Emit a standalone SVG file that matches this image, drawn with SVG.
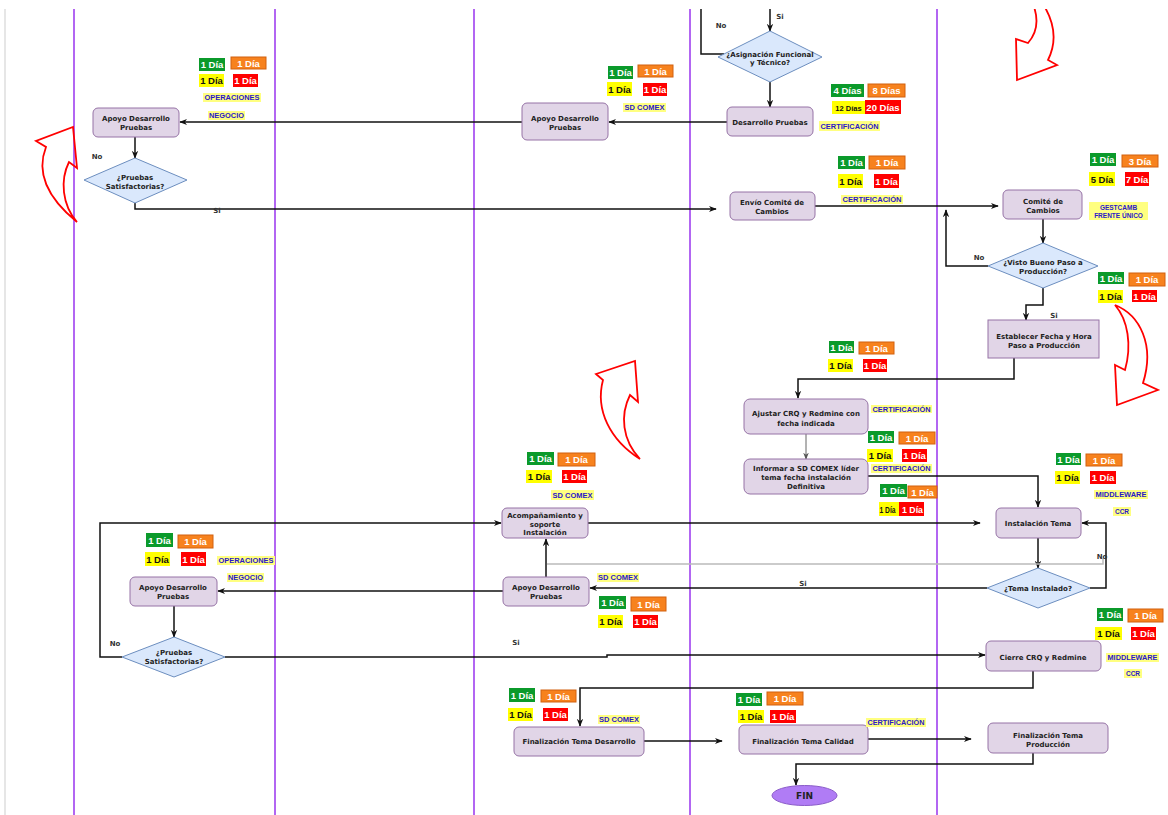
<svg xmlns="http://www.w3.org/2000/svg" width="1168" height="815" viewBox="0 0 1168 815">
<defs>
<style>
.lane{stroke:#9933ee;stroke-width:1.5;fill:none}
.node{fill:#e1d5e7;stroke:#9673a6;stroke-width:1}
.dec{fill:#dae8fc;stroke:#6c8ebf;stroke-width:1}
.t{font-family:"DejaVu Sans",Verdana,sans-serif;font-weight:bold;font-size:7px;fill:#222;text-anchor:middle}
.e{fill:none;stroke:#111;stroke-width:1.5;marker-end:url(#arr)}
.en{fill:none;stroke:#111;stroke-width:1.5}
.eg{fill:none;stroke:#bbbbbb;stroke-width:1.5}
.red{fill:none;stroke:#ff0000;stroke-width:1.8;stroke-linejoin:miter}
.bt{font-family:"Liberation Sans",Arial,sans-serif;font-weight:bold;font-size:9.5px;text-anchor:middle}
.gr{fill:#0b9a2b}
.or{fill:#f7821e;stroke:#d2600e;stroke-width:1}
.ye{fill:#ffff00}
.rd{fill:#ff0000}
.w{fill:#ffffff}
.k{fill:#111111}
.lb{fill:#ffff80}
.lt{font-family:"Liberation Sans",Arial,sans-serif;font-weight:bold;font-size:6.5px;fill:#2a18c8;text-anchor:middle}
.yn{font-family:"DejaVu Sans",Verdana,sans-serif;font-weight:bold;font-size:7px;fill:#333;text-anchor:middle}
</style>
<marker id="arr" viewBox="0 0 10 10" refX="9" refY="5" markerWidth="8" markerHeight="8" orient="auto" markerUnits="userSpaceOnUse"><path d="M0,1 L10,5 L0,9 L3,5 Z" fill="#111"/></marker>
<marker id="arrg" viewBox="0 0 10 10" refX="9" refY="5" markerWidth="7" markerHeight="7" orient="auto" markerUnits="userSpaceOnUse"><path d="M0,1 L10,5 L0,9 L3,5 Z" fill="#555"/></marker>
<clipPath id="clip"><rect x="0" y="9" width="1168" height="806"/></clipPath>
</defs>
<rect width="1168" height="815" fill="#ffffff"/>
<g id="lanes">
<line x1="5" y1="9" x2="5" y2="815" stroke="#e6e6e6" stroke-width="2"/>
<line class="lane" x1="74" y1="9" x2="74" y2="815"/>
<line class="lane" x1="275" y1="9" x2="275" y2="815"/>
<line class="lane" x1="474" y1="9" x2="474" y2="815"/>
<line class="lane" x1="690" y1="9" x2="690" y2="815"/>
<line class="lane" x1="937" y1="9" x2="937" y2="815"/>
</g>
<g id="redarrows" clip-path="url(#clip)">
<path class="red" d="M77 222 C50 200,35 175,46 147 L36 141 L73 127 L77 168 L69 162 C60 180,62 205,77 222 Z"/>
<path class="red" d="M1033 4 C1040 22,1035 35,1028 43 L1016 39 L1017 80 L1057 65 L1048 60 C1058 40,1053 20,1043 4"/>
<path class="red" d="M1115 305 C1140 315,1155 345,1143 383 L1158 390 L1117 405 L1115 365 L1125 370 C1132 345,1128 320,1115 305 Z"/>
<path class="red" d="M640 459 C610 440,595 410,603 380 L596 374 L635 361 L638 402 L630 395 C620 415,622 440,640 459 Z"/>
</g>
<g id="connectors">
<path class="e" d="M770,9 V31"/>
<path class="en" d="M701,9 V54 H724"/>
<path class="e" d="M770,82 V107"/>
<path class="e" d="M727,122 H609"/>
<path class="e" d="M522,122 H180"/>
<path class="e" d="M135,137 V158"/>
<path class="e" d="M135,203 V209 H716"/>
<path class="e" d="M815,206 H998"/>
<path class="e" d="M1043,219 V243"/>
<path class="e" d="M988,266 H946 V210"/>
<path class="e" d="M1043,288 V305 H1026 V320"/>
<path class="e" d="M1014,358 V379 H798 V398"/>
<path d="M806,434 V459" fill="none" stroke="#666" stroke-width="1" marker-end="url(#arrg)"/>
<path class="e" d="M868,476 H1038 V507"/>
<path class="e" d="M587,523 H980"/>
<path class="e" d="M1038,538 V568"/>
<path class="e" d="M1090,588 H1106 V523 H1082"/>
<path class="eg" d="M547,564 H1103 V558"/>
<path class="e" d="M987,588 H590"/>
<path class="e" d="M546,577 V539"/>
<path class="e" d="M503,591 H218"/>
<path class="e" d="M174,606 V637"/>
<path class="e" d="M122,657 H100 V523 H501"/>
<path class="e" d="M225,657 H607 V655 H985"/>
<path class="e" d="M1033,670 V688 H580 V726"/>
<path class="e" d="M644,741 H722"/>
<path class="e" d="M868,739 H971"/>
<path class="e" d="M1033,753 V764 H796 V785"/>
</g>
<g id="edge-labels">
<text class="yn" x="780" y="19">Si</text>
<text class="yn" x="721" y="28">No</text>
<text class="yn" x="97" y="159">No</text>
<text class="yn" x="217" y="213">Si</text>
<text class="yn" x="979" y="260">No</text>
<text class="yn" x="1054" y="318">Si</text>
<text class="yn" x="1102" y="559">No</text>
<text class="yn" x="803" y="586">Si</text>
<text class="yn" x="115" y="646">No</text>
<text class="yn" x="516" y="645">Si</text>
</g>
<g id="n-apoyo1"><rect class="node" x="93" y="108" width="86" height="29" rx="5"/><text class="t" x="136" y="121">Apoyo Desarrollo<tspan x="136" dy="9">Pruebas</tspan></text></g>
<g id="n-pruebas1"><polygon class="dec" points="135,158 187,180 135,203 84,180"/><text class="t" x="135" y="180">¿Pruebas<tspan x="135" dy="9">Satisfactorias?</tspan></text></g>
<g id="n-apoyo2"><rect class="node" x="522" y="103" width="86" height="37" rx="5"/><text class="t" x="565" y="121">Apoyo Desarrollo<tspan x="565" dy="8.5">Pruebas</tspan></text></g>
<g id="n-asignacion"><polygon class="dec" points="770,31 822,57 770,82 718,57"/><text class="t" x="770" y="57">¿Asignación Funcional<tspan x="770" dy="8">y Técnico?</tspan></text></g>
<g id="n-desarrollo"><rect class="node" x="727" y="107" width="86" height="29" rx="5"/><text class="t" x="770" y="125">Desarrollo Pruebas</text></g>
<g id="n-envio"><rect class="node" x="730" y="192" width="85" height="28" rx="5"/><text class="t" x="772" y="205">Envío Comité de<tspan x="772" dy="9">Cambios</tspan></text></g>
<g id="n-comite"><rect class="node" x="1003" y="190" width="79" height="29" rx="5"/><text class="t" x="1043" y="204">Comité de<tspan x="1043" dy="9">Cambios</tspan></text></g>
<g id="n-visto"><polygon class="dec" points="1043,243 1098,266 1043,288 988,266"/><text class="t" x="1043" y="265">¿Visto Bueno Paso a<tspan x="1043" dy="9">Producción?</tspan></text></g>
<g id="n-establecer"><rect class="node" x="988" y="320" width="111" height="38" stroke="#8a63a0"/><text class="t" x="1044" y="339">Establecer Fecha y Hora<tspan x="1044" dy="8.5">Paso a Producción</tspan></text></g>
<g id="n-ajustar"><rect class="node" x="744" y="399" width="124" height="35" rx="6"/><text class="t" x="806" y="416">Ajustar CRQ y Redmine con<tspan x="806" dy="9.5">fecha indicada</tspan></text></g>
<g id="n-informar"><rect class="node" x="744" y="459" width="124" height="35" rx="6"/><text class="t" x="806" y="471">Informar a SD COMEX líder<tspan x="806" dy="9">tema fecha instalación</tspan><tspan x="806" dy="9">Definitiva</tspan></text></g>
<g id="n-instalacion"><rect class="node" x="996" y="508" width="85" height="30" rx="5"/><text class="t" x="1038" y="526">Instalación Tema</text></g>
<g id="n-tema"><polygon class="dec" points="1038,568 1090,588 1038,608 987,588"/><text class="t" x="1038" y="591">¿Tema Instalado?</text></g>
<g id="n-cierre"><rect class="node" x="986" y="641" width="115" height="30" rx="5"/><text class="t" x="1043" y="660">Cierre CRQ y Redmine</text></g>
<g id="n-acompanamiento"><rect class="node" x="502" y="508" width="86" height="30" rx="5"/><text class="t" x="545" y="518">Acompañamiento y<tspan x="545" dy="8.5">soporte</tspan><tspan x="545" dy="8.5">Instalación</tspan></text></g>
<g id="n-apoyo3"><rect class="node" x="503" y="577" width="86" height="29" rx="5"/><text class="t" x="546" y="590">Apoyo Desarrollo<tspan x="546" dy="9">Pruebas</tspan></text></g>
<g id="n-apoyo4"><rect class="node" x="130" y="577" width="87" height="29" rx="5"/><text class="t" x="173" y="590">Apoyo Desarrollo<tspan x="173" dy="9">Pruebas</tspan></text></g>
<g id="n-pruebas2"><polygon class="dec" points="174,637 225,657 174,677 122,657"/><text class="t" x="174" y="655">¿Pruebas<tspan x="174" dy="9">Satisfactorias?</tspan></text></g>
<g id="n-findes"><rect class="node" x="514" y="727" width="130" height="29" rx="5"/><text class="t" x="579" y="744">Finalización Tema Desarrollo</text></g>
<g id="n-fincal"><rect class="node" x="739" y="725" width="129" height="29" rx="5"/><text class="t" x="803" y="744">Finalización Tema Calidad</text></g>
<g id="n-finprod"><rect class="node" x="988" y="723" width="120" height="30" rx="5"/><text class="t" x="1048" y="738">Finalización Tema<tspan x="1048" dy="9">Producción</tspan></text></g>
<g id="n-fin"><ellipse cx="804.5" cy="795.5" rx="32.5" ry="10" fill="#b07cf5" stroke="#8a5cc8"/><text class="t" x="804.5" y="799" style="font-size:9px">FIN</text></g>
<g id="badges">
<g id="b-A">
<rect class="gr" x="199" y="58" width="26" height="13"/><text class="bt w" x="212" y="68">1 Día</text>
<rect class="or" x="231" y="57" width="35" height="12"/><text class="bt w" x="248.5" y="66.5">1 Día</text>
<rect class="ye" x="199" y="74" width="25" height="13"/><text class="bt k" x="211.5" y="84">1 Día</text>
<rect class="rd" x="233" y="74" width="25" height="13"/><text class="bt w" x="245.5" y="84">1 Día</text>
<rect class="lb" x="203" y="93" width="58" height="9"/><text class="lt" x="232" y="100" textLength="55" lengthAdjust="spacingAndGlyphs">OPERACIONES</text>
<rect class="lb" x="208" y="111" width="37" height="9"/><text class="lt" x="226.5" y="118" textLength="35" lengthAdjust="spacingAndGlyphs">NEGOCIO</text>
</g>
<g id="b-B">
<rect class="gr" x="608" y="66" width="25" height="13"/><text class="bt w" x="620.5" y="76">1 Día</text>
<rect class="or" x="638" y="65" width="35" height="12"/><text class="bt w" x="655.5" y="74.5">1 Día</text>
<rect class="ye" x="607" y="82" width="25" height="14"/><text class="bt k" x="619.5" y="92.5">1 Día</text>
<rect class="rd" x="643" y="83" width="24" height="13"/><text class="bt w" x="655" y="93">1 Día</text>
<rect class="lb" x="623" y="103" width="43" height="9"/><text class="lt" x="644.5" y="110" textLength="40" lengthAdjust="spacingAndGlyphs">SD COMEX</text>
</g>
<g id="b-C">
<rect class="gr" x="831" y="84" width="33" height="13"/><text class="bt w" x="847.5" y="94">4 Días</text>
<rect class="or" x="868" y="84" width="37" height="13"/><text class="bt w" x="886.5" y="94">8 Días</text>
<rect class="ye" x="832" y="101" width="33" height="13"/><text class="bt k" x="848.5" y="110.5" style="font-size:7.5px">12 Días</text>
<rect class="rd" x="865" y="100" width="36" height="14"/><text class="bt w" x="883" y="110.5">20 Días</text>
<rect class="lb" x="819" y="121" width="61" height="10"/><text class="lt" x="849.5" y="128.5" textLength="58" lengthAdjust="spacingAndGlyphs">CERTIFICACIÓN</text>
</g>
<g id="b-D">
<rect class="gr" x="838" y="156" width="27" height="13"/><text class="bt w" x="851.5" y="166">1 Día</text>
<rect class="or" x="869" y="156" width="36" height="13"/><text class="bt w" x="887" y="166">1 Día</text>
<rect class="ye" x="838" y="174" width="25" height="14"/><text class="bt k" x="850.5" y="184.5">1 Día</text>
<rect class="rd" x="874" y="174" width="25" height="14"/><text class="bt w" x="886.5" y="184.5">1 Día</text>
<rect class="lb" x="841" y="195" width="62" height="9"/><text class="lt" x="872" y="202" textLength="59" lengthAdjust="spacingAndGlyphs">CERTIFICACIÓN</text>
</g>
<g id="b-E">
<rect class="gr" x="1090" y="153" width="26" height="13"/><text class="bt w" x="1103" y="163">1 Día</text>
<rect class="or" x="1122" y="155" width="36" height="12"/><text class="bt w" x="1140" y="164.5">3 Día</text>
<rect class="ye" x="1089" y="172" width="26" height="14"/><text class="bt k" x="1102" y="182.5">5 Día</text>
<rect class="rd" x="1125" y="172" width="24" height="14"/><text class="bt w" x="1137" y="182.5">7 Día</text>
<rect class="lb" x="1089" y="202" width="59" height="18"/><text class="lt" x="1118.5" y="209.5">GESTCAMB<tspan x="1118.5" dy="8">FRENTE ÚNICO</tspan></text>
</g>
<g id="b-F">
<rect class="gr" x="1098" y="272" width="26" height="12"/><text class="bt w" x="1111" y="281.5">1 Día</text>
<rect class="or" x="1129" y="273" width="36" height="13"/><text class="bt w" x="1147" y="283">1 Día</text>
<rect class="ye" x="1098" y="290" width="25" height="13"/><text class="bt k" x="1110.5" y="300">1 Día</text>
<rect class="rd" x="1132" y="290" width="25" height="12"/><text class="bt w" x="1144.5" y="299.5">1 Día</text>
</g>
<g id="b-G">
<rect class="gr" x="829" y="341" width="25" height="12"/><text class="bt w" x="841.5" y="350.5">1 Día</text>
<rect class="or" x="859" y="342" width="35" height="12"/><text class="bt w" x="876.5" y="351.5">1 Día</text>
<rect class="ye" x="828" y="359" width="25" height="13"/><text class="bt k" x="840.5" y="369">1 Día</text>
<rect class="rd" x="863" y="359" width="24" height="13"/><text class="bt w" x="875" y="369">1 Día</text>
<rect class="lb" x="871" y="405" width="61" height="8"/><text class="lt" x="901.5" y="411.5" textLength="58" lengthAdjust="spacingAndGlyphs">CERTIFICACIÓN</text>
</g>
<g id="b-H">
<rect class="gr" x="868" y="431" width="26" height="12"/><text class="bt w" x="881" y="440.5">1 Día</text>
<rect class="or" x="899" y="432" width="36" height="12"/><text class="bt w" x="917" y="441.5">1 Día</text>
<rect class="ye" x="867" y="449" width="26" height="13"/><text class="bt k" x="880" y="459">1 Día</text>
<rect class="rd" x="902" y="449" width="25" height="13"/><text class="bt w" x="914.5" y="459">1 Día</text>
<rect class="lb" x="871" y="464" width="61" height="9"/><text class="lt" x="901.5" y="471" textLength="58" lengthAdjust="spacingAndGlyphs">CERTIFICACIÓN</text>
</g>
<g id="b-I">
<rect class="gr" x="880" y="484" width="27" height="13"/><text class="bt w" x="893.5" y="494">1 Día</text>
<rect class="or" x="908" y="486" width="29" height="12"/><text class="bt w" x="922.5" y="495.5">1 Día</text>
<rect class="ye" x="879" y="502" width="26" height="14"/><text class="bt k" x="887.5" y="512.5" textLength="16" lengthAdjust="spacingAndGlyphs">1 Día</text>
<rect class="rd" x="899" y="502" width="25" height="14"/><text class="bt w" x="912.5" y="512.5" textLength="21" lengthAdjust="spacingAndGlyphs">1 Día</text>
</g>
<g id="b-J">
<rect class="gr" x="1056" y="453" width="25" height="12"/><text class="bt w" x="1068.5" y="462.5">1 Día</text>
<rect class="or" x="1086" y="454" width="36" height="12"/><text class="bt w" x="1104" y="463.5">1 Día</text>
<rect class="ye" x="1055" y="471" width="25" height="13"/><text class="bt k" x="1067.5" y="481">1 Día</text>
<rect class="rd" x="1090" y="471" width="26" height="13"/><text class="bt w" x="1103" y="481">1 Día</text>
<rect class="lb" x="1094" y="490" width="54" height="9"/><text class="lt" x="1121" y="497" textLength="51" lengthAdjust="spacingAndGlyphs">MIDDLEWARE</text>
<rect class="lb" x="1113" y="507" width="18" height="9"/><text class="lt" x="1122" y="514">CCR</text>
</g>
<g id="b-K">
<rect class="gr" x="1097" y="608" width="26" height="13"/><text class="bt w" x="1110" y="618">1 Día</text>
<rect class="or" x="1128" y="609" width="35" height="13"/><text class="bt w" x="1145.5" y="619">1 Día</text>
<rect class="ye" x="1095" y="627" width="27" height="13"/><text class="bt k" x="1108.5" y="637">1 Día</text>
<rect class="rd" x="1131" y="627" width="25" height="13"/><text class="bt w" x="1143.5" y="637">1 Día</text>
<rect class="lb" x="1106" y="653" width="53" height="9"/><text class="lt" x="1132.5" y="660" textLength="50" lengthAdjust="spacingAndGlyphs">MIDDLEWARE</text>
<rect class="lb" x="1124" y="669" width="18" height="9"/><text class="lt" x="1133" y="676">CCR</text>
</g>
<g id="b-L">
<rect class="gr" x="527" y="452" width="27" height="13"/><text class="bt w" x="540.5" y="462">1 Día</text>
<rect class="or" x="558" y="453" width="37" height="13"/><text class="bt w" x="576.5" y="463">1 Día</text>
<rect class="ye" x="526" y="470" width="26" height="13"/><text class="bt k" x="539" y="480">1 Día</text>
<rect class="rd" x="562" y="470" width="25" height="13"/><text class="bt w" x="574.5" y="480">1 Día</text>
<rect class="lb" x="551" y="490" width="43" height="10"/><text class="lt" x="572.5" y="497.5" textLength="40" lengthAdjust="spacingAndGlyphs">SD COMEX</text>
</g>
<g id="b-M">
<rect class="lb" x="597" y="573" width="42" height="9"/><text class="lt" x="618" y="580" textLength="40" lengthAdjust="spacingAndGlyphs">SD COMEX</text>
<rect class="gr" x="599" y="596" width="27" height="13"/><text class="bt w" x="612.5" y="606">1 Día</text>
<rect class="or" x="631" y="597" width="35" height="14"/><text class="bt w" x="648.5" y="607.5">1 Día</text>
<rect class="ye" x="598" y="615" width="25" height="13"/><text class="bt k" x="610.5" y="625">1 Día</text>
<rect class="rd" x="633" y="615" width="25" height="13"/><text class="bt w" x="645.5" y="625">1 Día</text>
</g>
<g id="b-N">
<rect class="gr" x="146" y="533" width="27" height="14"/><text class="bt w" x="159.5" y="543.5">1 Día</text>
<rect class="or" x="178" y="535" width="35" height="13"/><text class="bt w" x="195.5" y="545">1 Día</text>
<rect class="ye" x="145" y="552" width="25" height="14"/><text class="bt k" x="157.5" y="562.5">1 Día</text>
<rect class="rd" x="181" y="552" width="25" height="14"/><text class="bt w" x="193.5" y="562.5">1 Día</text>
<rect class="lb" x="217" y="556" width="58" height="9"/><text class="lt" x="246" y="563" textLength="55" lengthAdjust="spacingAndGlyphs">OPERACIONES</text>
<rect class="lb" x="227" y="573" width="37" height="9"/><text class="lt" x="245.5" y="580" textLength="35" lengthAdjust="spacingAndGlyphs">NEGOCIO</text>
</g>
<g id="b-O">
<rect class="gr" x="509" y="688" width="26" height="14"/><text class="bt w" x="522" y="698.5">1 Día</text>
<rect class="or" x="541" y="690" width="35" height="12"/><text class="bt w" x="558.5" y="699.5">1 Día</text>
<rect class="ye" x="508" y="708" width="25" height="13"/><text class="bt k" x="520.5" y="718">1 Día</text>
<rect class="rd" x="543" y="708" width="25" height="13"/><text class="bt w" x="555.5" y="718">1 Día</text>
<rect class="lb" x="598" y="715" width="42" height="9"/><text class="lt" x="619" y="722" textLength="40" lengthAdjust="spacingAndGlyphs">SD COMEX</text>
</g>
<g id="b-P">
<rect class="gr" x="736" y="693" width="26" height="13"/><text class="bt w" x="749" y="703">1 Día</text>
<rect class="or" x="767" y="692" width="36" height="13"/><text class="bt w" x="785" y="702">1 Día</text>
<rect class="ye" x="738" y="710" width="26" height="13"/><text class="bt k" x="751" y="720">1 Día</text>
<rect class="rd" x="770" y="710" width="26" height="13"/><text class="bt w" x="783" y="720">1 Día</text>
<rect class="lb" x="866" y="718" width="60" height="9"/><text class="lt" x="896" y="725" textLength="57" lengthAdjust="spacingAndGlyphs">CERTIFICACIÓN</text>
</g>
</g>
</svg>
